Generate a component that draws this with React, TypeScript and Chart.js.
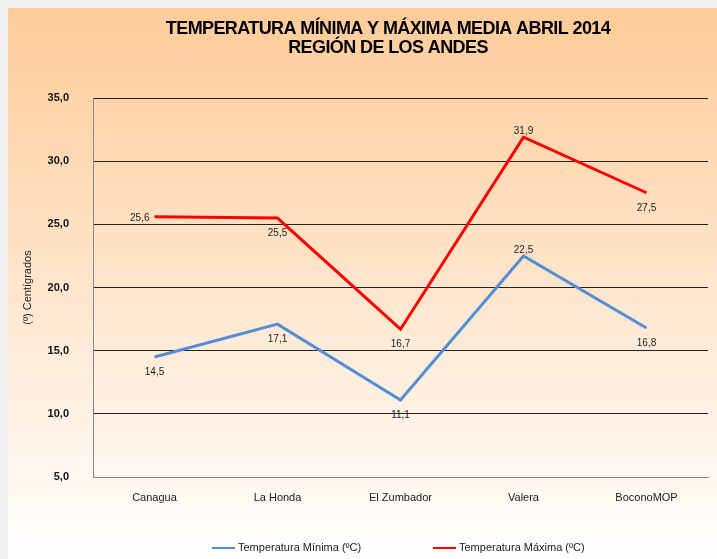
import React, { useEffect, useRef } from "react";
import { Chart, registerables } from "chart.js";

Chart.register(...registerables);

const categories = ["Canagua", "La Honda", "El Zumbador", "Valera", "BoconoMOP"];
const tempMin = [14.5, 17.1, 11.1, 22.5, 16.8];
const tempMax = [25.6, 25.5, 16.7, 31.9, 27.5];
const minLabelPos = ["below", "below", "below", "above", "below"];
const maxLabelPos = ["left", "below", "below", "above", "below"];
const yTicks = [5, 10, 15, 20, 25, 30, 35];
const titleLines = ["TEMPERATURA MÍNIMA Y MÁXIMA MEDIA ABRIL 2014", "REGIÓN DE LOS ANDES"];
const yAxisTitle = "(º) Centígrados";
const seriesNames = ["Temperatura Mínima (ºC)", "Temperatura Máxima (ºC)"];
const seriesColors = ["#558ED5", "#FF0000"];

const FONT = "'Liberation Sans', Arial, sans-serif";
const fmt = (v: number) => v.toFixed(1).replace(".", ",");

const bgPlugin = {
  id: "bg",
  beforeDraw(chart: any) {
    const { ctx, width, height } = chart;
    const g = ctx.createLinearGradient(0, 0, 0, height);
    g.addColorStop(0, "#FFCC99");
    g.addColorStop(1, "#FFFFFF");
    ctx.save();
    ctx.fillStyle = g;
    ctx.fillRect(0, 0, width, height);
    ctx.restore();
  },
};

const decorPlugin = {
  id: "decor",
  afterDraw(chart: any) {
    const { ctx } = chart;
    ctx.save();
    // Title
    ctx.fillStyle = "#000";
    ctx.font = `bold 18px ${FONT}`;
    ctx.textAlign = "center";
    ctx.textBaseline = "middle";
    try { (ctx as any).letterSpacing = "-0.6px"; } catch (e) {}
    const cx = 380;
    ctx.fillText(titleLines[0], cx, 21);
    ctx.fillText(titleLines[1], cx, 40);
    try { (ctx as any).letterSpacing = "0px"; } catch (e) {}

    // Data labels
    ctx.font = `10px ${FONT}`;
    ctx.fillStyle = "#222";
    const sets = [minLabelPos, maxLabelPos];
    [0, 1].forEach((di) => {
      const meta = chart.getDatasetMeta(di);
      const ds = chart.data.datasets[di];
      meta.data.forEach((pt: any, i: number) => {
        const pos = sets[di][i];
        const txt = fmt(ds.data[i]);
        let x = pt.x;
        let y = pt.y;
        if (pos === "left") {
          ctx.textAlign = "right";
          x -= 5;
          y += 1;
        } else if (pos === "above") {
          ctx.textAlign = "center";
          y -= 6;
        } else {
          ctx.textAlign = "center";
          y += 15;
        }
        ctx.fillText(txt, x, y);
      });
    });

    // Legend
    ctx.font = `11px ${FONT}`;
    ctx.textAlign = "left";
    ctx.textBaseline = "middle";
    const ly = 540;
    const items = [204, 425];
    items.forEach((lx, i) => {
      ctx.strokeStyle = seriesColors[i];
      ctx.lineWidth = 2;
      ctx.beginPath();
      ctx.moveTo(lx, ly);
      ctx.lineTo(lx + 23, ly);
      ctx.stroke();
      ctx.fillStyle = "#222";
      ctx.fillText(seriesNames[i], lx + 26, ly);
    });
    ctx.restore();
  },
};

export default function App() {
  const ref = useRef<HTMLCanvasElement>(null);
  useEffect(() => {
    document.documentElement.style.overflow = "hidden";
    document.body.style.overflow = "hidden";
    document.body.style.background = "#efefef";
    const chart = new Chart(ref.current as HTMLCanvasElement, {
      type: "line",
      data: {
        labels: categories,
        datasets: [
          {
            label: seriesNames[0],
            data: tempMin,
            borderColor: seriesColors[0],
            backgroundColor: seriesColors[0],
            borderWidth: 3,
            pointRadius: 0,
            tension: 0,
          },
          {
            label: seriesNames[1],
            data: tempMax,
            borderColor: seriesColors[1],
            backgroundColor: seriesColors[1],
            borderWidth: 3,
            pointRadius: 0,
            tension: 0,
          },
        ],
      },
      options: {
        animation: false,
        responsive: false,
        maintainAspectRatio: false,
        layout: { padding: { top: 90, right: 9, bottom: 0, left: 0 } },
        plugins: {
          legend: { display: false },
          title: { display: false },
          tooltip: { enabled: false },
        },
        scales: {
          x: {
            offset: true,
            grid: { display: false, drawTicks: false },
            border: { display: true, color: "#888", width: 1 },
            ticks: { color: "#222", font: { family: FONT, size: 11 }, padding: 14, maxRotation: 0, autoSkip: false },
            afterFit: (s: any) => { s.height = 82; },
          },
          y: {
            min: 5,
            max: 35,
            afterBuildTicks: (s: any) => { s.ticks = yTicks.map((v) => ({ value: v })); },
            grid: {
              drawTicks: false,
              color: (c: any) => (c.tick && c.tick.value === 5 ? "rgba(0,0,0,0)" : "#222"),
              lineWidth: 1,
            },
            border: { display: true, color: "#888", width: 1 },
            ticks: {
              color: "#111",
              font: { family: FONT, size: 11, weight: "bold" },
              padding: 24,
              callback: (v: any) => fmt(Number(v)),
            },
            title: {
              display: true,
              text: yAxisTitle,
              color: "#222",
              font: { family: FONT, size: 11 },
              padding: { top: 13, bottom: 0 },
            },
            afterFit: (s: any) => { s.width = 85; },
          },
        },
      },
      plugins: [bgPlugin, decorPlugin],
    } as any);
    return () => chart.destroy();
  }, []);
  return (
    <div style={{ position: "fixed", left: 8, top: 8, width: 709, height: 551, overflow: "hidden" }}>
      <canvas ref={ref} width={709} height={551} style={{ display: "block" }} />
    </div>
  );
}
